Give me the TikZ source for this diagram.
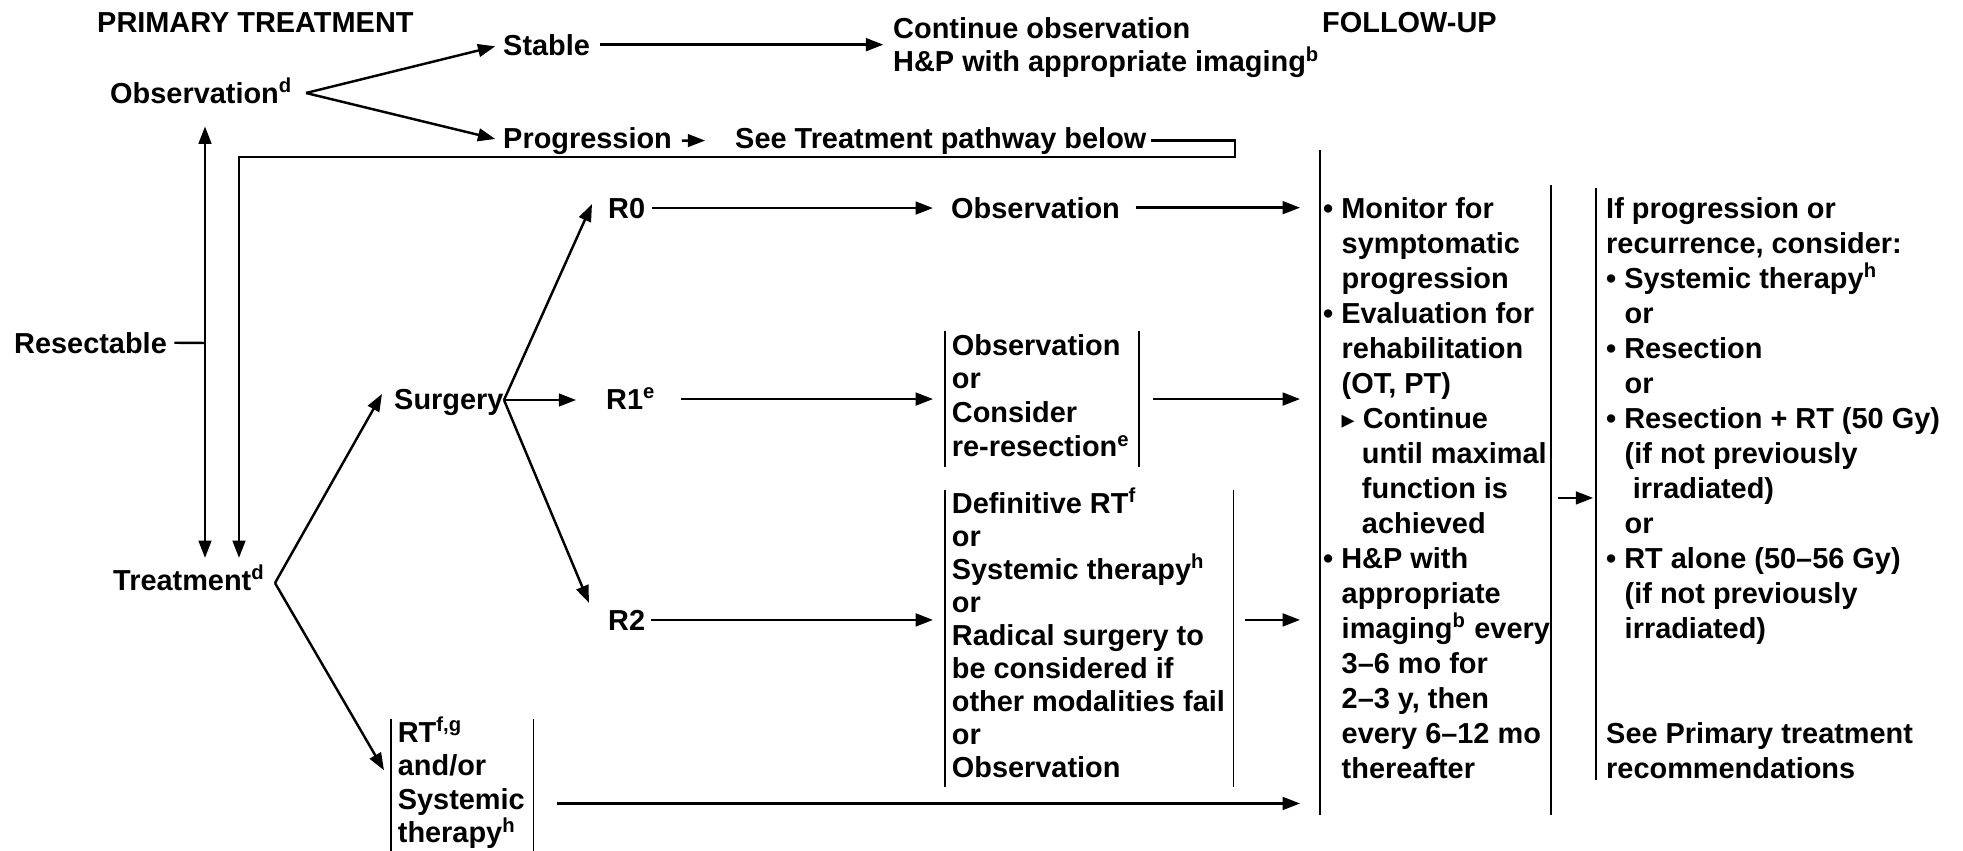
\documentclass[tikz,border=0pt]{standalone}
\usepackage{fontspec}
\setmainfont{Liberation Sans}
\newfontfamily\symbfont{DejaVu Sans}
\usetikzlibrary{arrows.meta}
\setlength{\arrayrulewidth}{0.6pt}
\newcommand{\fn}[1]{\smash{\textsuperscript{#1}}}
\newcommand{\ind}{\hspace*{6.4pt}}
\newcommand{\indd}{\hspace*{13.4pt}}
\newcommand{\coltab}[1]{\begin{tabular}[t]{@{}l@{}}#1\end{tabular}}
\newcommand{\boxtab}[1]{\begin{tabular}[t]{|@{\hspace{2pt}}l@{\hspace{3pt}}|}#1\end{tabular}}

\begin{document}
\begin{tikzpicture}[x=0.346pt, y=-0.346pt, line width=0.85pt,
        >={Triangle[length=6pt,width=4.4pt]},
        lbl/.style={anchor=base west, inner sep=0pt, font=\bfseries},
        col/.style={anchor=base west, inner sep=0pt, font=\fontsize{10}{#1}\selectfont\bfseries},
        bracket/.style={line width=0.6pt}]
        \useasboundingbox (0,0) rectangle (1963,851);

        % headings
        \node[lbl] (primary) at (96,32) {PRIMARY TREATMENT};
        \node[lbl] (followup) at (1321,32) {FOLLOW-UP};

        % observation branch
        \node[lbl] (obs) at (109,103) {Observation\fn{d}};
        \node[lbl] (stable) at (502,55) {Stable};
        \node[col=11.76pt] (contobs) at (892,38) {\coltab{Continue observation\\ H\&P with appropriate imaging\fn{b}}};
        \node[lbl] (progr) at (502,148) {Progression};
        \node[lbl] (seebelow) at (734,148) {See Treatment pathway below};

        \node[lbl] (resect) at (13,353) {Resectable};
        \node[lbl] (treat) at (112,590) {Treatment\fn{d}};

        % treatment branch
        \node[lbl] (surgery) at (393,409) {Surgery};
        \node[lbl] (rzero) at (607,218) {R0};
        \node[lbl] (rone) at (605,409) {R1\fn{e}};
        \node[lbl] (rtwo) at (607,630) {R2};
        \node[lbl] (obszero) at (950,218) {Observation};
        \node[col=11.76pt] (ronebox) at (944,355) {\boxtab{Observation\\ or\\ Consider\\ re-resection\fn{e}}};
        \node[col=11.42pt] (rtwobox) at (944,513) {\boxtab{Definitive RT\fn{f}\\ or\\ Systemic therapy\fn{h}\\ or\\ Radical surgery to\\ be considered if\\ other modalities fail\\ or\\ Observation}};
        \node[col=11.59pt] (rtbox) at (390,742) {\boxtab{RT\fn{f,g}\\ and/or\\ Systemic\\ therapy\fn{h}}};

        % follow-up
        \node[col=12.11pt] (fu) at (1322,218) {\coltab{• Monitor for\\ \ind symptomatic\\ \ind progression\\
                • Evaluation for\\ \ind rehabilitation\\ \ind (OT, PT)\\ \ind{\symbfont\small ▸} Continue\\
                \indd until maximal\\ \indd function is\\ \indd achieved\\ • H\&P with\\ \ind appropriate\\
                \ind imaging\fn{b} every\\ \ind 3–6 mo for\\ \ind 2–3 y, then\\ \ind every 6–12 mo\\ \ind thereafter}};
        \node[col=12.11pt] (concl) at (1605,218) {\coltab{If progression or\\ recurrence, consider:\\
                • Systemic therapy\fn{h}\\ \ind or\\ • Resection\\ \ind or\\ • Resection + RT (50 Gy)\\
                \ind (if not previously\\ \ind\ irradiated)\\ \ind or\\ • RT alone (50–56 Gy)\\
                \ind (if not previously\\ \ind irradiated)\\ \\ \\ See Primary treatment\\ recommendations}};

        \draw[bracket] (1320,150) -- (1320,815);
        \draw[bracket] (1551,185) -- (1551,815);
        \draw[bracket] (1596,188) -- (1596,780);

        \coordinate (obsfork) at (306,93);
        \coordinate (junc) at (205,343);
        \coordinate (loopR) at (1235,157);
        \coordinate (loopL) at (239,157);
        \coordinate (treatfork) at (275,583);
        \coordinate (surgfork) at (504,400);

        \draw[->, shorten >=2.4pt] (obsfork) -- (stable.west);
        \draw[->, shorten >=2.4pt] (obsfork) -- (progr.west);
        \draw[->, shorten <=3pt, shorten >=3pt] (stable.east) -- (stable.east -| contobs.west);
        \draw[->, shorten <=3pt, shorten >=10pt] (progr.east) -- (seebelow.west);
        \draw[->, shorten <=1pt, shorten >=3.8pt] (seebelow.east) -| (loopR) -- (loopL) -- (loopL |- treat.north);
        \draw[<->, shorten <=7.6pt, shorten >=3.8pt] (obs.south -| junc) -- (treat.north -| junc);
        \draw[shorten <=2.2pt] (resect.east) -- (junc);

        \draw[->] (treatfork) -- ([shift={(-11,-8)}]surgery.west);
        \draw[->] (treatfork) -- ([shift={(-6,53)}]rtbox.north west);
        \draw[->] (surgfork) -- ([shift={(-15,-4)}]rzero.west);
        \draw[->, shorten >=10pt] (surgfork) -- (surgfork -| rone.west);
        \draw[->] (surgfork) -- ([shift={(-18,-17)}]rtwo.west);

        \draw[->, shorten <=2pt, shorten >=5.9pt] (rzero.east) -- (rzero.east -| obszero.west);
        \draw[->, shorten <=5pt, shorten >=7.6pt] (obszero.east) -- (obszero.east -| fu.west);
        \draw[->, shorten <=8.3pt, shorten >=3.8pt] (rone.east) -- (rone.east -| ronebox.west);
        \draw[->, shorten <=4.5pt, shorten >=7.6pt] (rone.east -| ronebox.east) -- (rone.east -| fu.west);
        \draw[->, shorten <=1.7pt, shorten >=3.8pt] (rtwo.east) -- (rtwo.east -| rtwobox.west);
        \draw[->, shorten <=3.5pt, shorten >=7.6pt] (rtwo.east -| rtwobox.east) -- (rtwo.east -| fu.west);
        \draw[->, shorten <=7.6pt, shorten >=7.6pt] ([yshift=-6.2pt]rtbox.east) -- ([yshift=-6.2pt]rtbox.east -| fu.west);
        \draw[->, shorten <=2.4pt, shorten >=4.1pt] ([yshift=-2.4pt]fu.east) -- ([yshift=-2.4pt]fu.east -| concl.west);
\end{tikzpicture}
\end{document}
